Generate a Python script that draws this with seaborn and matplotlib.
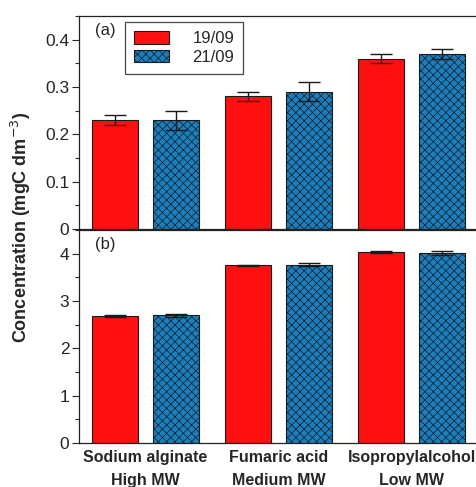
import numpy as np
import pandas as pd
import matplotlib
matplotlib.use('Agg')
import matplotlib.pyplot as plt
import seaborn as sns
from matplotlib.ticker import MultipleLocator

# Data
compounds = ['Sodium alginate\nHigh MW', 'Fumaric acid\nMedium MW', 'Isopropylalcohol\nLow MW']
dates = ['19/09', '21/09']

conc_a_1909 = [0.23, 0.28, 0.36]
conc_a_2109 = [0.23, 0.29, 0.37]
err_a_1909 = [0.01, 0.01, 0.01]
err_a_2109 = [0.02, 0.02, 0.01]

conc_b_1909 = [2.68, 3.76, 4.04]
conc_b_2109 = [2.70, 3.77, 4.01]
err_b_1909 = [0.02, 0.01, 0.02]
err_b_2109 = [0.03, 0.04, 0.04]

RED = '#ff1010'
BLUE = '#1a7fc1'
EDGE = '#1a1a1a'

sns.set_style('ticks')
plt.rcParams['font.family'] = ['Liberation Sans', 'DejaVu Sans']
plt.rcParams['hatch.linewidth'] = 0.5
plt.rcParams['hatch.color'] = EDGE


def make_df(v1, v2):
    return pd.DataFrame({
        'compound': compounds * 2,
        'date': [dates[0]] * 3 + [dates[1]] * 3,
        'value': list(v1) + list(v2),
    })


def draw_panel(ax, v1, v2, e1, e2, ylim, major, minor, label, legend=False):
    df = make_df(v1, v2)
    sns.barplot(data=df, x='compound', y='value', hue='date', ax=ax,
                palette=[RED, BLUE], width=0.916, gap=0.25,
                edgecolor=EDGE, linewidth=0.8, saturation=1, errorbar=None,
                legend=legend)
    for cont, errs, hatch in zip(ax.containers, [e1, e2], ['', 'xxxx']):
        xs = [p.get_x() + p.get_width() / 2 for p in cont.patches]
        ys = [p.get_height() for p in cont.patches]
        for p in cont.patches:
            p.set_hatch(hatch)
        ax.errorbar(xs, ys, yerr=errs, fmt='none', ecolor=EDGE,
                    elinewidth=1.0, capsize=8, capthick=1.0)
    ax.set_xlim(-0.5, 2.5)
    ax.set_ylim(*ylim)
    ax.yaxis.set_major_locator(MultipleLocator(major))
    ax.yaxis.set_minor_locator(MultipleLocator(minor))
    ax.tick_params(axis='y', which='major', length=5, width=0.8, labelsize=12.5, pad=2)
    ax.tick_params(axis='y', which='minor', length=3, width=0.8)
    ax.tick_params(axis='x', length=0)
    ax.set_xlabel('')
    ax.set_ylabel('')
    for s in ax.spines.values():
        s.set_visible(True)
        s.set_linewidth(0.9)
        s.set_color('#222222')
    ax.text(0.04, 0.93, label, transform=ax.transAxes, fontsize=12,
            ha='left', va='center')


fig = plt.figure(figsize=(4.76, 4.87), dpi=100)
ax_a = fig.add_axes([79 / 476, 1 - 229 / 487, 1.005 - 79 / 476, 213 / 487])
ax_b = fig.add_axes([79 / 476, 1 - 443 / 487, 1.005 - 79 / 476, 213 / 487])

draw_panel(ax_a, conc_a_1909, conc_a_2109, err_a_1909, err_a_2109,
           (0, 0.45), 0.1, 0.05, '(a)', legend=True)
draw_panel(ax_b, conc_b_1909, conc_b_2109, err_b_1909, err_b_2109,
           (0, 4.5), 1, 0.5, '(b)')

ax_a.set_yticks([0, 0.1, 0.2, 0.3, 0.4])
ax_a.set_yticklabels(['0', '0.1', '0.2', '0.3', '0.4'])
ax_a.set_xticklabels([])

leg = ax_a.legend(loc='upper left', bbox_to_anchor=(0.115, 0.972), fontsize=12,
                  frameon=True, fancybox=False, edgecolor=EDGE,
                  handlelength=2.1, handleheight=0.8, borderpad=0.55,
                  labelspacing=0.2, handletextpad=1.4, borderaxespad=0)
leg.get_frame().set_linewidth(0.9)
for h, hatch in zip(leg.legend_handles, ['', 'xxxx']):
    h.set_hatch(hatch)

for t in ax_b.get_xticklabels():
    t.set_fontweight('bold')
    t.set_fontsize(11.5)
    t.set_linespacing(1.65)
ax_b.tick_params(axis='x', pad=5)

fig.text(0.044, 0.534, 'Concentration (mgC dm$^{-3}$)', rotation=90,
         ha='center', va='center', fontsize=13, fontweight='bold')

fig.savefig('out.png', dpi=100)
